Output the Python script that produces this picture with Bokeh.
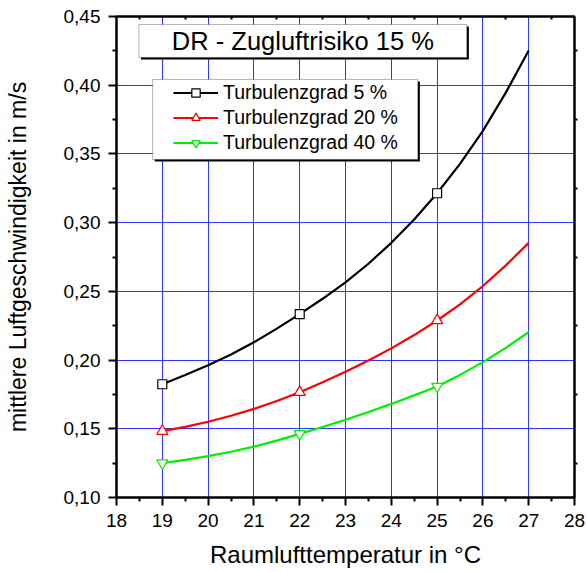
from bokeh.plotting import figure
from bokeh.models import (FixedTicker, LinearAxis, Range1d, Legend, LegendItem,
                          Label, BoxAnnotation, CustomJSTickFormatter)
from bokeh.embed import file_html
from bokeh.resources import INLINE

# ---- data (every 0.5 °C) ----
temps = [19, 19.5, 20, 20.5, 21, 21.5, 22, 22.5, 23, 23.5, 24, 24.5, 25, 25.5, 26, 26.5, 27]
v_tu5 = [0.1824, 0.1892, 0.1963, 0.2040, 0.2129, 0.2229, 0.2334, 0.2446, 0.2566, 0.2701, 0.2853,
         0.3023, 0.3214, 0.3428, 0.3668, 0.3946, 0.4253]
v_tu20 = [0.1483, 0.1514, 0.1551, 0.1595, 0.1645, 0.1702, 0.1766, 0.1838, 0.1915, 0.1997, 0.2085,
          0.2182, 0.2288, 0.2406, 0.2539, 0.2689, 0.2853]
v_tu40 = [0.1250, 0.1274, 0.1301, 0.1333, 0.1370, 0.1414, 0.1463, 0.1513, 0.1566, 0.1622, 0.1681,
          0.1743, 0.1808, 0.1892, 0.1985, 0.2089, 0.2203]
marker_temps = [19, 22, 25]
series_names = ["Turbulenzgrad 5 %", "Turbulenzgrad 20 %", "Turbulenzgrad 40 %"]
title_text = "DR - Zugluftrisiko 15 %"
x_title = "Raumlufttemperatur in °C"
y_title = "mittlere Luftgeschwindigkeit in m/s"
x_ticks = [18, 19, 20, 21, 22, 23, 24, 25, 26, 27, 28]
x_labels = ["18", "19", "20", "21", "22", "23", "24", "25", "26", "27", "28"]
y_ticks = [0.10, 0.15, 0.20, 0.25, 0.30, 0.35, 0.40, 0.45]
y_labels = ["0,10", "0,15", "0,20", "0,25", "0,30", "0,35", "0,40", "0,45"]

FONT = "Liberation Sans"

p = figure(width=587, height=572, x_range=Range1d(18, 28), y_range=Range1d(0.10, 0.45),
           output_backend="svg", toolbar_location=None,
           min_border_left=116, min_border_right=13, min_border_top=16, min_border_bottom=75,
           background_fill_color="white", border_fill_color="white")

x_minor = [t + 0.5 for t in x_ticks[:-1]]
y_minor = [round(t + 0.025, 4) for t in y_ticks[:-1]]

# grid
p.xgrid.ticker = FixedTicker(ticks=x_ticks)
p.ygrid.ticker = FixedTicker(ticks=y_ticks)
p.grid.grid_line_color = "#0000ff"
p.grid.grid_line_width = 1
p.grid.grid_line_alpha = 0.8

p.outline_line_color = "black"
p.outline_line_width = 2
p.outline_line_alpha = 1

# main axes
for ax, ticks, minor, labels in ((p.xaxis[0], x_ticks, x_minor, x_labels),
                                 (p.yaxis[0], y_ticks, y_minor, y_labels)):
    ax.ticker = FixedTicker(ticks=ticks, minor_ticks=minor)
    ax.major_label_overrides = dict(zip(ticks, labels))
    ax.axis_line_width = 2
    ax.axis_line_color = "black"
    ax.major_tick_line_width = 2
    ax.minor_tick_line_width = 2
    ax.major_tick_out = 8
    ax.major_tick_in = 0
    ax.minor_tick_out = 4
    ax.minor_tick_in = 0
    ax.major_label_text_font = FONT
    ax.major_label_text_font_size = "19px"
    ax.major_label_text_color = "black"
    ax.axis_label_text_font = FONT
    ax.axis_label_text_font_style = "normal"
    ax.axis_label_text_color = "black"

p.xaxis.axis_label = x_title
p.yaxis.axis_label = y_title
p.xaxis.axis_label_text_font_size = "24px"
p.yaxis.axis_label_text_font_size = "23px"
p.xaxis.major_label_standoff = 8
p.xaxis.axis_label_standoff = 11
p.yaxis.major_label_standoff = 8
p.yaxis.axis_label_standoff = 30

blank = CustomJSTickFormatter(code="return '';")
right_ax = LinearAxis(ticker=FixedTicker(ticks=y_ticks, minor_ticks=y_minor), formatter=blank,
                      axis_line_width=2, major_tick_out=0, major_tick_in=0,
                      minor_tick_out=3, minor_tick_in=0, minor_tick_line_width=2,
                      major_label_standoff=0)
top_ax = LinearAxis(ticker=FixedTicker(ticks=x_ticks, minor_ticks=x_minor), formatter=blank,
                    axis_line_width=2, major_tick_out=0, major_tick_in=0,
                    minor_tick_out=0, minor_tick_in=3, minor_tick_line_width=2,
                    major_label_standoff=0)
p.add_layout(right_ax, "right")
p.add_layout(top_ax, "above")

# ---- series ----
styles = [("black", "square", 9), ("#ff0000", "triangle", 11), ("#00ee00", "inverted_triangle", 11)]
items = []
for name, vals, (col, mk, sz) in zip(series_names, (v_tu5, v_tu20, v_tu40), styles):
    ln = p.line(temps, vals, line_color=col, line_width=2.2)
    my = [vals[temps.index(t)] for t in marker_temps]
    sc = p.scatter(marker_temps, my, marker=mk, size=sz, line_color=col,
                   fill_color="white", line_width=1.2)
    items.append(LegendItem(label=name, renderers=[ln, sc]))

# title box (with shadow)
dx = 2.0 / 45.8
dy = 2.0 / 1374.0
p.add_layout(BoxAnnotation(left=18.49 + dx, right=25.65 + dx, top=0.4442 - dy, bottom=0.4202 - dy,
                           fill_color="black", fill_alpha=1, line_alpha=0))
p.add_layout(BoxAnnotation(left=18.49, right=25.65, top=0.4442, bottom=0.4202,
                           fill_color="white", fill_alpha=1, line_color="black", line_width=1))
p.add_layout(Label(x=22.07, y=0.4322, text=title_text, text_align="center", text_baseline="middle",
                   text_font=FONT, text_font_size="25.5px", text_color="black"))

# legend box (with shadow)
p.add_layout(BoxAnnotation(left=18.79 + dx, right=24.58 + dx, top=0.4042 - dy, bottom=0.3459 - dy,
                           fill_color="black", fill_alpha=1, line_alpha=0))
p.add_layout(BoxAnnotation(left=18.79, right=24.58, top=0.4042, bottom=0.3459,
                           fill_color="white", fill_alpha=1, line_color="black", line_width=1))

legend = Legend(items=items, location=(57, 343), padding=0, margin=0, spacing=2,
                glyph_width=45, glyph_height=21, label_height=21, label_standoff=5,
                label_text_font=FONT, label_text_font_size="19.5px", label_text_color="black",
                border_line_alpha=0, background_fill_alpha=0)
p.add_layout(legend, "center")

open("out.html", "w").write(file_html(p, INLINE))
